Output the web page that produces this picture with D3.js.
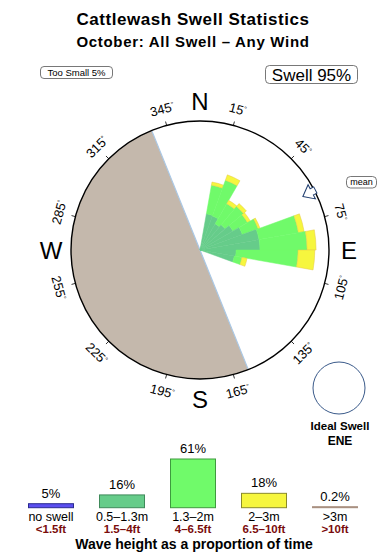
<!DOCTYPE html>
<html><head><meta charset="utf-8">
<script src="https://cdn.jsdelivr.net/npm/d3@7/dist/d3.min.js"></script>
<style>
html,body{margin:0;padding:0;background:#fff;}
svg{display:block;font-family:"Liberation Sans",Arial,Helvetica,sans-serif;}
</style></head>
<body>
<svg id="c" width="390" height="560"></svg>
<script>
// ---- data ----
const title = "Cattlewash Swell Statistics";
const subtitle = "October: All Swell \u2013 Any Wind";
const binStart = [10, 20, 30, 40, 50, 60, 70, 80, 90, 100]; // bearing of bin start (deg)
const binWidth = 10;
const smallSwell = [5.7, 5.6, 4.7, 5.1, 5.9, 7.0, 9.3, 9.3, 5.6, 5.4];   // 0.5-1.3m
const midSwell   = [4.5, 5.9, 3.6, 3.7, 2.6, 2.6, 6.2, 7.3, 9.6, 1.2];   // 1.3-2m
const bigSwell   = [0.5, 0.9, 0.6, 0.6, 0.5, 0.3, 0.9, 1.4, 2.6, 0.8];   // 2-3m
const tickBearings = [15, 45, 75, 105, 135, 165, 195, 225, 255, 285, 315, 345];
const compass = [["N", 0], ["E", 90], ["S", 180], ["W", 270]];
const landFrom = 158, landTo = 338;
const meanDir = 62.5;
const legendCats = ["no swell", "0.5\u20131.3m", "1.3\u20132m", "2\u20133m", ">3m"];
const legendFeet = ["<1.5ft", "1.5\u20134ft", "4\u20136.5ft", "6.5\u201310ft", ">10ft"];
const legendPct = [5, 16, 61, 18, 0.2];
const legendLbl = ["5%", "16%", "61%", "18%", "0.2%"];
const fills = ["#5b4ff0", "#66cc8a", "#70fa6a", "#f6f63e", "#c4ae9e"];
const strokes = ["#2a2a90", "#3f8a5a", "#3e9a3e", "#8a8a2a", "#a89080"];

// ---- drawing ----
const svg = d3.select("#c");
const cx = 200, cy = 250, R = 129;
const rad = d => d * Math.PI / 180;
const r = d3.scaleLinear().domain([0, 20]).range([0, R]);

svg.append("text").attr("x", 193).attr("y", 24.5).attr("text-anchor", "middle")
  .attr("font-size", 17).attr("letter-spacing", 0.55).attr("font-weight", "bold").text(title);
svg.append("text").attr("x", 193).attr("y", 46.5).attr("text-anchor", "middle")
  .attr("font-size", 15).attr("letter-spacing", 0.7).attr("font-weight", "bold").text(subtitle);

// info boxes
function box(x, y, w, h, txt, fs, rx) {
  svg.append("rect").attr("x", x).attr("y", y).attr("width", w).attr("height", h)
    .attr("rx", rx).attr("fill", "#fff").attr("stroke", "#555").attr("stroke-width", 0.8);
  svg.append("text").attr("x", x + w / 2).attr("y", y + h / 2).attr("dy", "0.36em")
    .attr("text-anchor", "middle").attr("font-size", fs).text(txt);
}
box(40.5, 66.5, 72, 12, "Too Small 5%", 9.5, 3.5);
box(265.5, 65.5, 92, 18, "Swell 95%", 17, 4);
box(346.5, 176.5, 30, 11.5, "mean", 9, 4);

const g = svg.append("g").attr("transform", `translate(${cx},${cy})`);

// land
g.append("path").attr("d", d3.arc()({innerRadius: 0, outerRadius: R,
  startAngle: rad(landFrom), endAngle: rad(landTo)})).attr("fill", "#c4b8ac");
g.append("line")
  .attr("x1", R * Math.sin(rad(landFrom))).attr("y1", -R * Math.cos(rad(landFrom)))
  .attr("x2", R * Math.sin(rad(landTo))).attr("y2", -R * Math.cos(rad(landTo)))
  .attr("stroke", "#aac8e6").attr("stroke-width", 1.2);

// rose
const arc = d3.arc();
const layers = [[smallSwell, fills[1]], [midSwell, fills[2]], [bigSwell, fills[3]]];
binStart.forEach((b, i) => {
  let acc = 0;
  layers.forEach(([arr, col]) => {
    const v0 = acc, v1 = acc + arr[i];
    acc = v1;
    g.append("path").attr("d", arc({innerRadius: r(v0), outerRadius: r(v1),
      startAngle: rad(b), endAngle: rad(b + binWidth)}))
      .attr("fill", col).attr("stroke", col === fills[3] ? "#e6c84a" : col)
      .attr("stroke-width", 0.5);
  });
});

// circle
g.append("circle").attr("r", R).attr("fill", "none").attr("stroke", "#000").attr("stroke-width", 1.4);

// ticks and labels
tickBearings.forEach(b => {
  const s = Math.sin(rad(b)), c = Math.cos(rad(b));
  g.append("line").attr("x1", R * s).attr("y1", -R * c).attr("x2", (R + 4) * s).attr("y2", -(R + 4) * c)
    .attr("stroke", "#000").attr("stroke-width", 0.8);
  let rot = b % 180; if (rot > 90) rot -= 180;
  const lr = 146;
  const t = g.append("text").attr("transform", `translate(${lr * s},${-lr * c}) rotate(${rot})`)
    .attr("text-anchor", "middle").attr("dy", "0.36em").attr("font-size", 13);
  t.append("tspan").text(b);
  t.append("tspan").attr("font-size", 7).attr("dy", "-0.6em").text("\u00b0");
});
compass.forEach(([l, b]) => {
  const lr = 149;
  g.append("text").attr("x", lr * Math.sin(rad(b))).attr("y", -lr * Math.cos(rad(b)))
    .attr("dy", "0.36em").attr("text-anchor", "middle").attr("font-size", 24).text(l);
});

// mean arrow
g.append("path").attr("transform", `rotate(${meanDir})`)
  .attr("d", "M0,-116 L8,-126 L3.5,-126 L3.5,-130 L-3.5,-130 L-3.5,-126 L-8,-126 Z")
  .attr("fill", "#fff").attr("stroke", "#1e3c6e").attr("stroke-width", 1);

// ideal swell
svg.append("circle").attr("cx", 339).attr("cy", 388).attr("r", 26)
  .attr("fill", "none").attr("stroke", "#3a5a8a").attr("stroke-width", 1);
svg.append("text").attr("x", 340).attr("y", 430).attr("text-anchor", "middle")
  .attr("font-size", 11.5).attr("font-weight", "bold").text("Ideal Swell");
svg.append("text").attr("x", 340).attr("y", 444.5).attr("text-anchor", "middle")
  .attr("font-size", 12).attr("font-weight", "bold").text("ENE");

// legend bars
const lx = d3.scalePoint().domain(legendCats).range([51, 335]);
const ly = d3.scaleLinear().domain([0, 61]).range([507.7, 459]);
const bw = 45;
legendCats.forEach((cat, i) => {
  const x = lx(cat);
  const top = Math.min(ly(legendPct[i]), 506.7);
  svg.append("rect").attr("x", x - bw / 2).attr("y", top).attr("width", bw)
    .attr("height", ly(0) - top).attr("fill", fills[i]).attr("stroke", strokes[i]).attr("stroke-width", 1);
  svg.append("text").attr("x", x).attr("y", top - 6).attr("text-anchor", "middle")
    .attr("font-size", 13).text(legendLbl[i]);
  svg.append("text").attr("x", x).attr("y", 521).attr("text-anchor", "middle")
    .attr("font-size", 12.5).text(cat);
  svg.append("text").attr("x", x).attr("y", 533).attr("text-anchor", "middle")
    .attr("font-size", 11.5).attr("font-weight", "bold").attr("fill", "#7a0c0c").text(legendFeet[i]);
});
svg.append("text").attr("x", 194).attr("y", 548.5).attr("text-anchor", "middle")
  .attr("font-size", 14).attr("font-weight", "bold").text("Wave height as a proportion of time");
</script>
</body></html>
